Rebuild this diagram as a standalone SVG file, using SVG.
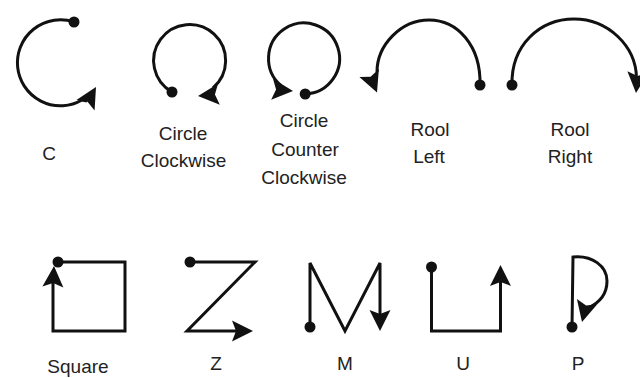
<svg xmlns="http://www.w3.org/2000/svg" xmlns:xlink="http://www.w3.org/1999/xlink" width="640" height="378" viewBox="0 0 640 378">
<style>
.ln{fill:none;stroke:#111;stroke-width:3;stroke-linejoin:miter;stroke-linecap:butt}
.dot{fill:#111}
.ah{fill:#111}
.lb{font-family:"Liberation Sans",Arial,Helvetica,sans-serif;font-size:19px;fill:#222;text-anchor:middle}
</style>
<defs>
<path id="ah" class="ah" d="M0,0 L-21,-10.5 L-17,0 L-21,10.5 Z"/>
</defs>
<rect width="640" height="378" fill="#fff"/>

<g id="sym-c">
<path class="ln" d="M74,22 A43,43 0 1 0 82,100 L87,101"/>
<circle class="dot" cx="74" cy="22" r="5.5"/>
<use xlink:href="#ah" href="#ah" transform="translate(96,87) rotate(-60)"/>
<text class="lb" x="49" y="160">C</text>
</g>

<g id="sym-circle-cw">
<path class="ln" d="M172,92 A36,36 0 1 1 213,88"/>
<circle class="dot" cx="172" cy="92" r="5.5"/>
<use xlink:href="#ah" href="#ah" transform="translate(198,96) rotate(175)"/>
<text class="lb" x="183" y="140">Circle</text>
<text class="lb" x="183.5" y="167">Clockwise</text>
</g>

<g id="sym-circle-ccw">
<path class="ln" d="M305.2,94 A35.5,35.5 0 1 0 281.2,85.7"/>
<circle class="dot" cx="305.2" cy="94" r="5.5"/>
<use xlink:href="#ah" href="#ah" transform="translate(293,91) rotate(5)"/>
<text class="lb" x="304" y="127">Circle</text>
<text class="lb" x="305" y="156">Counter</text>
<text class="lb" x="304" y="184">Clockwise</text>
</g>

<g id="sym-roll-left">
<path class="ln" d="M480,85 C481,45 457,20 429,20 C401,20 377,45 377,72"/>
<circle class="dot" cx="480" cy="85" r="5.5"/>
<use xlink:href="#ah" href="#ah" transform="translate(377,92.5) rotate(68)"/>
<text class="lb" x="430" y="136">Rool</text>
<text class="lb" x="429" y="163">Left</text>
</g>

<g id="sym-roll-right">
<path class="ln" d="M512,85 C511,45 540,19 574,19 C608,19 636,46 636.5,78"/>
<circle class="dot" cx="512" cy="85" r="5.5"/>
<use xlink:href="#ah" href="#ah" transform="translate(636,93) rotate(95)"/>
<text class="lb" x="570" y="136">Rool</text>
<text class="lb" x="570" y="163">Right</text>
</g>

<g id="sym-square">
<path class="ln" d="M58,262 L125,262 L125,331 L53,331 L53,283"/>
<circle class="dot" cx="58" cy="262" r="5.5"/>
<use xlink:href="#ah" href="#ah" transform="translate(54,266) rotate(-87)"/>
<text class="lb" x="78" y="373">Square</text>
</g>

<g id="sym-z">
<path class="ln" d="M190,262 L255,262 L187,331 L237,331"/>
<circle class="dot" cx="190" cy="262" r="5.5"/>
<use xlink:href="#ah" href="#ah" transform="translate(253,331)"/>
<text class="lb" x="216" y="370">Z</text>
</g>

<g id="sym-m">
<path class="ln" d="M310,327 L310,263 L345,331 L380,263 L380,314"/>
<circle class="dot" cx="310" cy="327" r="5.5"/>
<use xlink:href="#ah" href="#ah" transform="translate(380,331) rotate(90)"/>
<text class="lb" x="345" y="370">M</text>
</g>

<g id="sym-u">
<path class="ln" d="M431.5,267 L431.5,331 L500.5,331 L500.5,282"/>
<circle class="dot" cx="431.5" cy="267" r="5.5"/>
<use xlink:href="#ah" href="#ah" transform="translate(500.5,265) rotate(-90)"/>
<text class="lb" x="463" y="370">U</text>
</g>

<g id="sym-p">
<path class="ln" d="M572,327 L573,257 C592,255 607,266 607,281 C607,294 599,303 588,308"/>
<circle class="dot" cx="572" cy="327" r="5.5"/>
<use xlink:href="#ah" href="#ah" transform="translate(582,322) rotate(104)"/>
<text class="lb" x="578" y="370">P</text>
</g>
</svg>
